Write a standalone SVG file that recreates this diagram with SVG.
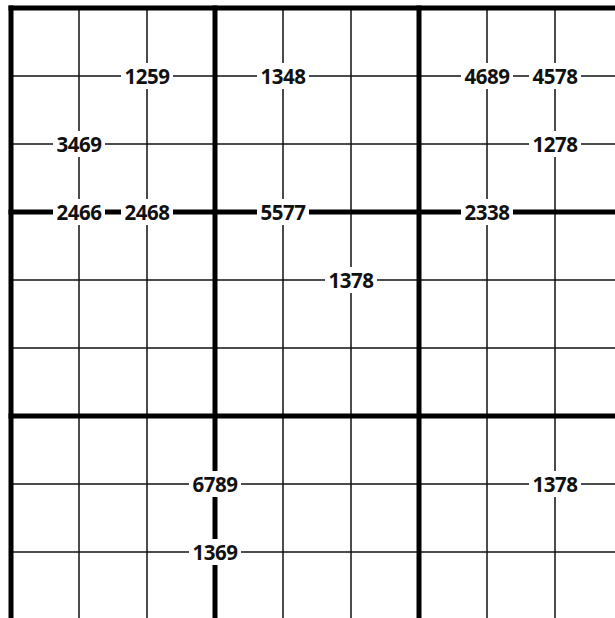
<svg xmlns="http://www.w3.org/2000/svg" width="615" height="618" viewBox="0 0 615 618">
<style>
.thin{stroke:#111;stroke-width:1.5;fill:none}
.thick{stroke:#000;stroke-width:5;fill:none;stroke-linecap:square}
.bg{fill:#fff}
.lbl{font-family:"Open Sans","Noto Sans",sans-serif;font-weight:700;font-size:20.5px;fill:#111;text-anchor:middle;letter-spacing:-0.5px}
</style>
<rect width="615" height="618" fill="#fff"/>
<g id="grid">
<g id="thin-lines">
<line class="thin" x1="79" y1="8" x2="79" y2="625"/>
<line class="thin" x1="147" y1="8" x2="147" y2="625"/>
<line class="thin" x1="283" y1="8" x2="283" y2="625"/>
<line class="thin" x1="351" y1="8" x2="351" y2="625"/>
<line class="thin" x1="487" y1="8" x2="487" y2="625"/>
<line class="thin" x1="555" y1="8" x2="555" y2="625"/>
<line class="thin" x1="11" y1="76" x2="625" y2="76"/>
<line class="thin" x1="11" y1="144" x2="625" y2="144"/>
<line class="thin" x1="11" y1="280" x2="625" y2="280"/>
<line class="thin" x1="11" y1="348" x2="625" y2="348"/>
<line class="thin" x1="11" y1="484" x2="625" y2="484"/>
<line class="thin" x1="11" y1="552" x2="625" y2="552"/>
</g>
<g id="thick-lines">
<line class="thick" x1="11" y1="8" x2="11" y2="625"/>
<line class="thick" x1="215" y1="8" x2="215" y2="625"/>
<line class="thick" x1="419" y1="8" x2="419" y2="625"/>
<line class="thick" x1="11" y1="8" x2="625" y2="8"/>
<line class="thick" x1="11" y1="212" x2="625" y2="212"/>
<line class="thick" x1="11" y1="416" x2="625" y2="416"/>
</g>
</g>
<g id="labels">
<g id="l1259"><rect class="bg" x="121" y="63" width="52" height="26"/><text class="lbl" x="147" y="83.5">1259</text></g>
<g id="l1348"><rect class="bg" x="257" y="63" width="52" height="26"/><text class="lbl" x="283" y="83.5">1348</text></g>
<g id="l4689"><rect class="bg" x="461" y="63" width="52" height="26"/><text class="lbl" x="487" y="83.5">4689</text></g>
<g id="l4578"><rect class="bg" x="529" y="63" width="52" height="26"/><text class="lbl" x="555" y="83.5">4578</text></g>
<g id="l3469"><rect class="bg" x="53" y="131" width="52" height="26"/><text class="lbl" x="79" y="151.5">3469</text></g>
<g id="l1278"><rect class="bg" x="529" y="131" width="52" height="26"/><text class="lbl" x="555" y="151.5">1278</text></g>
<g id="l2466"><rect class="bg" x="53" y="199" width="52" height="26"/><text class="lbl" x="79" y="219.5">2466</text></g>
<g id="l2468"><rect class="bg" x="121" y="199" width="52" height="26"/><text class="lbl" x="147" y="219.5">2468</text></g>
<g id="l5577"><rect class="bg" x="257" y="199" width="52" height="26"/><text class="lbl" x="283" y="219.5">5577</text></g>
<g id="l2338"><rect class="bg" x="461" y="199" width="52" height="26"/><text class="lbl" x="487" y="219.5">2338</text></g>
<g id="l1378a"><rect class="bg" x="325" y="267" width="52" height="26"/><text class="lbl" x="351" y="287.5">1378</text></g>
<g id="l6789"><rect class="bg" x="189" y="471" width="52" height="26"/><text class="lbl" x="215" y="491.5">6789</text></g>
<g id="l1369"><rect class="bg" x="189" y="539" width="52" height="26"/><text class="lbl" x="215" y="559.5">1369</text></g>
<g id="l1378b"><rect class="bg" x="529" y="471" width="52" height="26"/><text class="lbl" x="555" y="491.5">1378</text></g>
</g>
</svg>
